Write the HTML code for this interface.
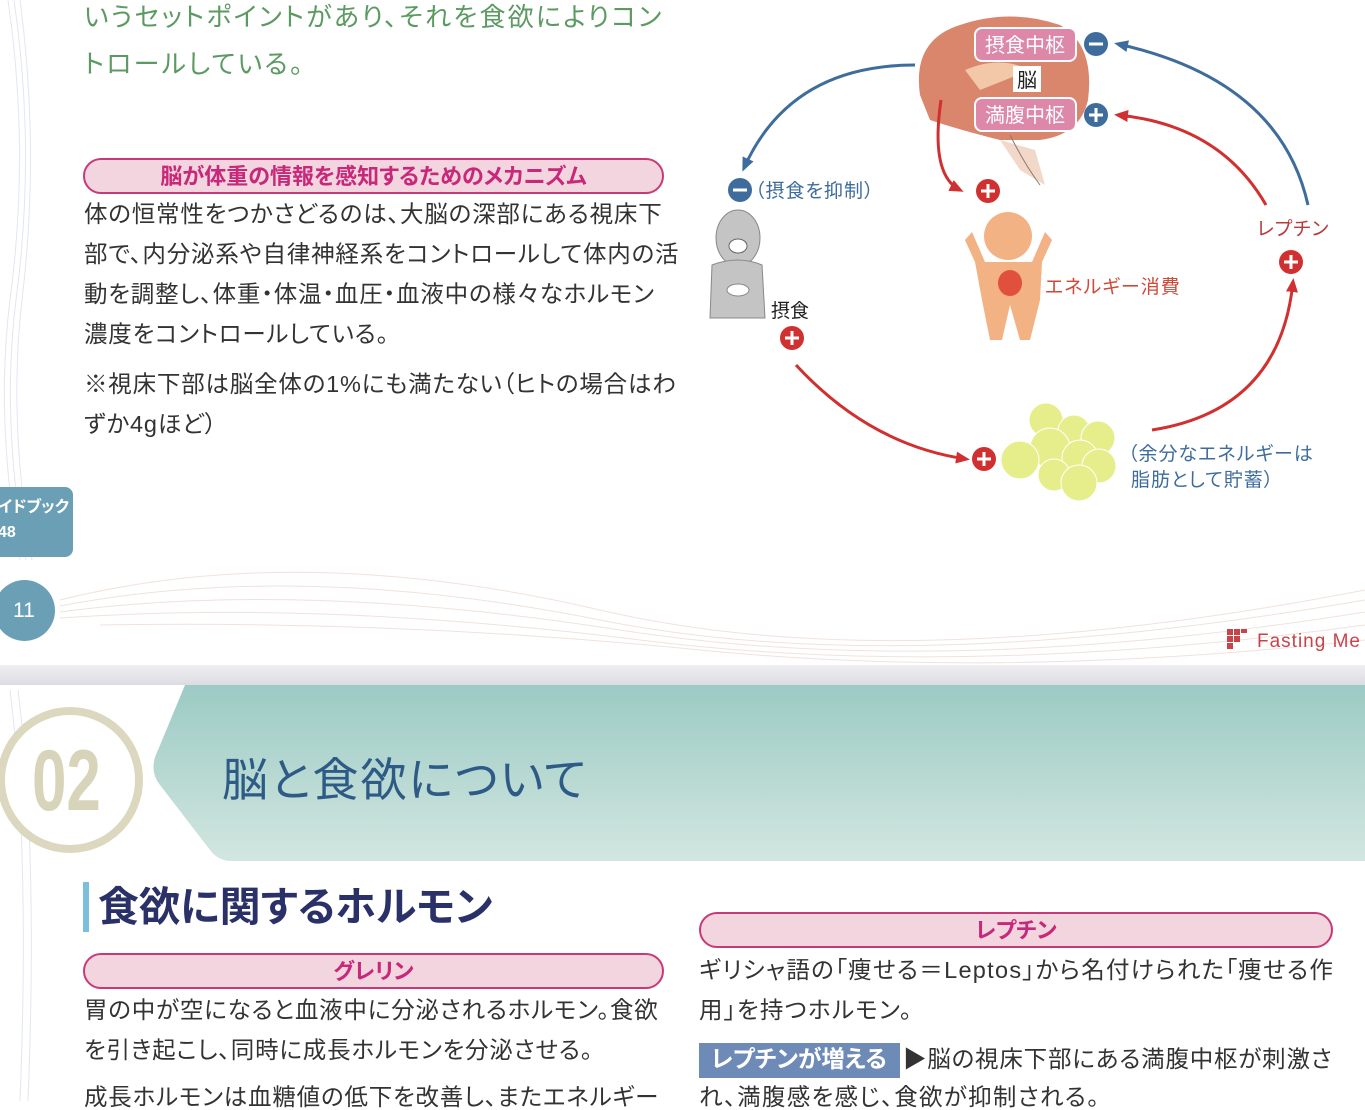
<!DOCTYPE html>
<html><head><meta charset="utf-8">
<style>
*{margin:0;padding:0;box-sizing:border-box}
body{width:1365px;height:1101px;overflow:hidden;background:#fff;position:relative;font-family:"Liberation Sans","Noto Sans CJK JP",sans-serif;color:#333;font-feature-settings:"palt"}
.t{position:absolute;white-space:nowrap;line-height:1}
.pill{position:absolute;border:2px solid #c8397a;background:#f3d5df;border-radius:18px;color:#c8287a;font-weight:bold;text-align:center;font-size:22px}
.b{font-size:23.5px;color:#333;letter-spacing:0.8px}
</style></head><body>
<svg style="position:absolute;left:0;top:0" width="1365" height="1101">
<g fill="none" stroke="#d8dcec" stroke-width="1" opacity="0.7">
<path d="M8 0 Q30 150 10 300 Q-5 420 20 560"/><path d="M14 0 Q36 150 16 300 Q1 420 26 560"/><path d="M20 0 Q40 150 22 300 Q8 420 32 560"/>
<path d="M10 690 Q30 850 20 1101"/><path d="M18 690 Q38 850 28 1101"/>
</g>
<g fill="none" stroke="#ecdcd4" stroke-width="1" opacity="0.8">
<path d="M60 600 Q300 540 600 610 T1365 590"/><path d="M60 606 Q300 560 600 620 T1365 600"/><path d="M60 612 Q300 580 620 630 T1365 612"/><path d="M60 618 Q320 600 640 640 T1365 625"/><path d="M100 625 Q400 620 700 650 T1365 640"/>
</g>
</svg>

<div class="t" style="left:84px;top:4px;font-size:26px;color:#5c9a62;letter-spacing:2.2px">いうセットポイントがあり、それを食欲によりコン</div>
<div class="t" style="left:84px;top:51px;font-size:26px;color:#5c9a62;letter-spacing:2.2px">トロールしている。</div>

<div class="pill" style="left:83px;top:158px;width:581px;height:36px;line-height:34px">脳が体重の情報を感知するためのメカニズム</div>
<div class="t b" style="left:84px;top:203px">体の恒常性をつかさどるのは、大脳の深部にある視床下</div>
<div class="t b" style="left:84px;top:243px">部で、内分泌系や自律神経系をコントロールして体内の活</div>
<div class="t b" style="left:84px;top:283px">動を調整し、体重・体温・血圧・血液中の様々なホルモン</div>
<div class="t b" style="left:84px;top:323px">濃度をコントロールしている。</div>
<div class="t b" style="left:84px;top:373px">※視床下部は脳全体の1%にも満たない（ヒトの場合はわ</div>
<div class="t b" style="left:84px;top:413px">ずか4gほど）</div>

<div style="position:absolute;left:-10px;top:487px;width:83px;height:70px;background:#6b9fb6;border-radius:8px;overflow:hidden">
<div class="t" style="left:8px;top:13px;font-size:16px;color:#fff;font-weight:bold">イドブック</div>
<div class="t" style="left:8px;top:38px;font-size:16px;color:#fff;font-weight:bold">48</div>
</div>
<div style="position:absolute;left:-6px;top:580px;width:61px;height:61px;background:#6b9fb6;border-radius:50%"></div>
<div class="t" style="left:13px;top:600px;font-size:21px;color:#fff">11</div>

<div style="position:absolute;left:1227px;top:629px;width:22px;height:22px">
<div style="position:absolute;left:0;top:0;width:6px;height:6px;background:#c9434a"></div>
<div style="position:absolute;left:7px;top:0;width:6px;height:6px;background:#c9434a"></div>
<div style="position:absolute;left:14px;top:0;width:6px;height:4px;background:#c9434a"></div>
<div style="position:absolute;left:0;top:7px;width:6px;height:6px;background:#c9434a"></div>
<div style="position:absolute;left:7px;top:7px;width:6px;height:6px;background:#c9434a"></div>
<div style="position:absolute;left:0;top:14px;width:6px;height:6px;background:#c9434a"></div>
</div>
<div class="t" style="left:1257px;top:632px;font-size:19px;color:#c9434a;letter-spacing:1px">Fasting Me</div>

<div style="position:absolute;left:0;top:665px;width:1365px;height:20px;background:linear-gradient(#f0f0f3,#dcdce2)"></div>

<svg style="position:absolute;left:0;top:685px" width="1365" height="190">
<defs><linearGradient id="g" x1="0" y1="0" x2="0" y2="1"><stop offset="0" stop-color="#9ccac4"/><stop offset="1" stop-color="#d2e6e0"/></linearGradient></defs>
<path d="M185 0 L1365 0 L1365 176 L232 176 Q218 176 210 165 L160 100 Q148 85 158 65 Z" fill="url(#g)"/>
<circle cx="70" cy="95" r="69" fill="#fff" stroke="#dcd8c0" stroke-width="8"/>
</svg>
<div class="t" style="left:32px;top:738px;font-size:86px;color:#d8d4ba;font-weight:bold;transform:scaleX(0.72);transform-origin:0 0">02</div>
<div class="t" style="left:222px;top:757px;font-size:46px;color:#2d5b86;letter-spacing:2px">脳と食欲について</div>

<div style="position:absolute;left:83px;top:882px;width:6px;height:50px;background:#7ac0dc"></div>
<div class="t" style="left:98px;top:887px;font-size:41px;color:#2a3068;font-weight:bold">食欲に関するホルモン</div>

<div class="pill" style="left:83px;top:953px;width:581px;height:36px;line-height:34px">グレリン</div>
<div class="t b" style="left:84px;top:999px">胃の中が空になると血液中に分泌されるホルモン。食欲</div>
<div class="t b" style="left:84px;top:1039px">を引き起こし、同時に成長ホルモンを分泌させる。</div>
<div class="t b" style="left:84px;top:1086px">成長ホルモンは血糖値の低下を改善し、またエネルギー</div>

<div class="pill" style="left:699px;top:912px;width:634px;height:36px;line-height:34px">レプチン</div>
<div class="t b" style="left:699px;top:959px;letter-spacing:1.3px">ギリシャ語の「痩せる＝Leptos」から名付けられた「痩せる作</div>
<div class="t b" style="left:699px;top:999px;letter-spacing:1.3px">用」を持つホルモン。</div>
<div style="position:absolute;left:699px;top:1043px;width:201px;height:35px;background:#6e8bb8"></div>
<div class="t" style="left:711px;top:1048px;font-size:23.5px;color:#fff;font-weight:bold">レプチンが増える</div>
<div class="t b" style="left:903px;top:1048px">▶脳の視床下部にある満腹中枢が刺激さ</div>
<div class="t b" style="left:699px;top:1086px;letter-spacing:1.3px">れ、満腹感を感じ、食欲が抑制される。</div>

<svg style="position:absolute;left:0;top:0" width="1365" height="520">
<defs>
<marker id="ab" markerWidth="14" markerHeight="14" refX="10" refY="7" orient="auto" markerUnits="userSpaceOnUse" viewBox="0 0 14 14"><path d="M0 1L14 7L0 13Z" fill="#3e6c9c"/></marker>
<marker id="ar" markerWidth="14" markerHeight="14" refX="10" refY="7" orient="auto" markerUnits="userSpaceOnUse" viewBox="0 0 14 14"><path d="M0 1L14 7L0 13Z" fill="#d03030"/></marker>
</defs>
<path d="M920 95 Q912 40 960 25 Q1010 8 1060 25 Q1095 45 1088 100 Q1080 135 1040 140 L1000 140 Q960 130 930 120 Z" fill="#d9866d"/>
<path d="M1000 140 L1020 170 L1045 185 L1035 150 Z" fill="#f2d8c8"/>
<path d="M1010 135 Q1025 165 1040 185" stroke="#8a7a70" fill="none"/>
<path d="M965 70 Q1000 55 1030 70 Q1005 80 980 90Z" fill="#f3c8a8"/>
<rect x="975" y="28" width="101" height="33" rx="7" fill="#dd88a8" stroke="#fff" stroke-width="2"/>
<text x="1025" y="52" font-size="20" fill="#fff" text-anchor="middle" font-family="Liberation Sans,Noto Sans CJK JP,sans-serif">摂食中枢</text>
<rect x="1013" y="66" width="28" height="26" fill="#fff"/>
<text x="1027" y="87" font-size="20" fill="#222" text-anchor="middle" font-family="Liberation Sans,Noto Sans CJK JP,sans-serif">脳</text>
<rect x="975" y="98" width="101" height="33" rx="7" fill="#dd88a8" stroke="#fff" stroke-width="2"/>
<text x="1025" y="122" font-size="20" fill="#fff" text-anchor="middle" font-family="Liberation Sans,Noto Sans CJK JP,sans-serif">満腹中枢</text>
<g fill="none" stroke-width="3">
<path d="M915 65 Q790 65 744 168" stroke="#3e6c9c" marker-end="url(#ab)"/>
<path d="M1308 205 Q1280 80 1118 44" stroke="#3e6c9c" marker-end="url(#ab)"/>
<path d="M1266 205 Q1220 125 1118 115" stroke="#d03030" marker-end="url(#ar)"/>
<path d="M941 100 Q930 175 960 190" stroke="#d03030" marker-end="url(#ar)"/>
<path d="M796 365 Q870 445 966 459" stroke="#d03030" marker-end="url(#ar)"/>
<path d="M1152 430 Q1280 410 1293 282" stroke="#d03030" marker-end="url(#ar)"/>
</g>
<g>
<circle cx="1096" cy="44" r="12" fill="#3e6c9c"/><rect x="1089" y="42.5" width="14" height="3" fill="#fff"/>
<circle cx="1096" cy="115" r="12" fill="#3e6c9c"/><rect x="1089" y="113.5" width="14" height="3" fill="#fff"/><rect x="1094.5" y="108" width="3" height="14" fill="#fff"/>
<circle cx="740" cy="190" r="12" fill="#3e6c9c"/><rect x="733" y="188.5" width="14" height="3" fill="#fff"/>
<circle cx="988" cy="191" r="12" fill="#d03030"/><rect x="981" y="189.5" width="14" height="3" fill="#fff"/><rect x="986.5" y="184" width="3" height="14" fill="#fff"/>
<circle cx="1291" cy="262" r="12" fill="#d03030"/><rect x="1284" y="260.5" width="14" height="3" fill="#fff"/><rect x="1289.5" y="255" width="3" height="14" fill="#fff"/>
<circle cx="792" cy="338" r="12" fill="#d03030"/><rect x="785" y="336.5" width="14" height="3" fill="#fff"/><rect x="790.5" y="331" width="3" height="14" fill="#fff"/>
<circle cx="984" cy="459" r="12" fill="#d03030"/><rect x="977" y="457.5" width="14" height="3" fill="#fff"/><rect x="982.5" y="452" width="3" height="14" fill="#fff"/>
</g>
<ellipse cx="738" cy="238" rx="22" ry="28" fill="#c4c4c4" stroke="#888"/>
<path d="M712 265 Q738 255 762 265 L765 318 L710 318 Z" fill="#c4c4c4" stroke="#888"/>
<ellipse cx="738" cy="246" rx="9" ry="7" fill="#fff" stroke="#666"/>
<ellipse cx="738" cy="290" rx="11" ry="6" fill="#fff" stroke="#888"/>
<g fill="#f3b283">
<circle cx="1008" cy="236" r="24"/>
<path d="M975 262 L1042 262 L1040 300 L1030 340 L1020 340 L1010 305 L1002 340 L990 340 L982 300 Z"/>
<path d="M975 262 L965 240 L972 232 L985 262 Z"/>
<path d="M1042 262 L1052 240 L1045 232 L1032 262 Z"/>
</g>
<ellipse cx="1010" cy="283" rx="12" ry="13" fill="#e0503a"/>
<g fill="#e6ee8c" stroke="#fff" stroke-width="1">
<circle cx="1046" cy="420" r="17"/><circle cx="1074" cy="431" r="16"/><circle cx="1098" cy="438" r="17"/>
<circle cx="1050" cy="448" r="20"/><circle cx="1020" cy="460" r="19"/><circle cx="1080" cy="458" r="18"/>
<circle cx="1099" cy="466" r="17"/><circle cx="1054" cy="475" r="16"/><circle cx="1079" cy="483" r="18"/>
</g>
<g font-family="Liberation Sans,Noto Sans CJK JP,sans-serif" font-size="19" style="font-feature-settings:'palt'">
<text x="755" y="197" fill="#3e6c9c" letter-spacing="1">（摂食を抑制）</text>
<text x="771" y="317" fill="#222">摂食</text>
<text x="1045" y="293" fill="#d04a3a" letter-spacing="1">エネルギー消費</text>
<text x="1257" y="235" fill="#b83a3a" letter-spacing="1">レプチン</text>
<text x="1128" y="460" fill="#3e6c9c" letter-spacing="1">（余分なエネルギーは</text>
<text x="1131" y="486" fill="#3e6c9c" letter-spacing="1">脂肪として貯蓄）</text>
</g>
</svg>
</body></html>
